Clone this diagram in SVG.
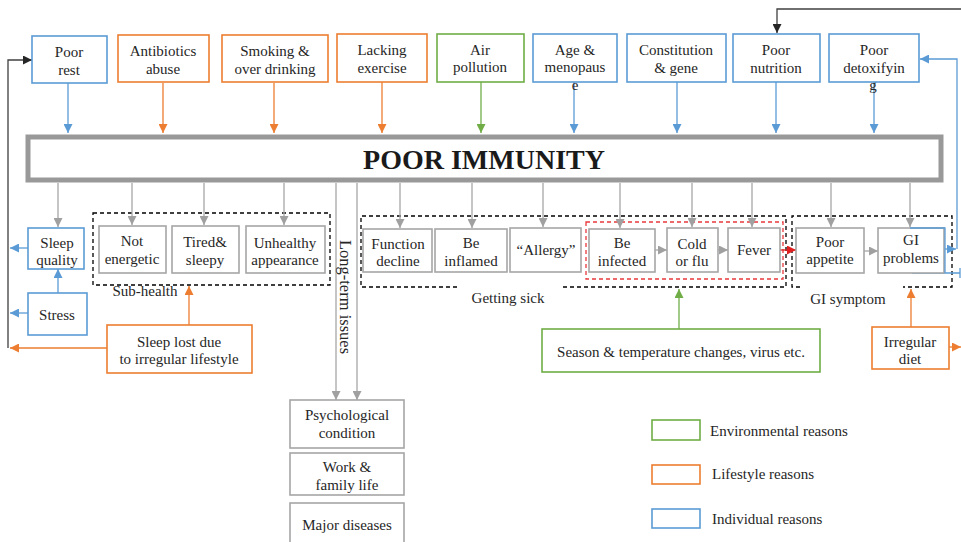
<svg xmlns="http://www.w3.org/2000/svg" width="961" height="542" viewBox="0 0 961 542">
<style>
text{font-family:"Liberation Serif","Times New Roman",serif;font-size:15px;fill:#262626;text-anchor:middle}
.b{fill:#fff;stroke:#5B9BD5;stroke-width:1.6}
.o{fill:#fff;stroke:#ED7D31;stroke-width:1.6}
.g{fill:#fff;stroke:#70AD47;stroke-width:1.6}
.n{fill:#fff;stroke:#A6A6A6;stroke-width:1.6}
.lb{stroke:#5B9BD5;stroke-width:1.3;fill:none}
.lo{stroke:#ED7D31;stroke-width:1.3;fill:none}
.lg{stroke:#70AD47;stroke-width:1.3;fill:none}
.ln{stroke:#A6A6A6;stroke-width:1.3;fill:none}
.lk{stroke:#404040;stroke-width:1.3;fill:none}
.lr{stroke:#E02020;stroke-width:1.3;fill:none}
.dash{fill:none;stroke:#000;stroke-width:1.3;stroke-dasharray:4,3}
.rdash{fill:none;stroke:#E8383D;stroke-width:1.3;stroke-dasharray:4,3}
.l{text-anchor:start}
</style>
<defs>
<marker id="ab" viewBox="0 0 10 10" refX="10" refY="5" markerWidth="9" markerHeight="9" markerUnits="userSpaceOnUse" orient="auto"><path d="M0,0L10,5L0,10z" fill="#5B9BD5"/></marker>
<marker id="ao" viewBox="0 0 10 10" refX="10" refY="5" markerWidth="9" markerHeight="9" markerUnits="userSpaceOnUse" orient="auto"><path d="M0,0L10,5L0,10z" fill="#ED7D31"/></marker>
<marker id="ag" viewBox="0 0 10 10" refX="10" refY="5" markerWidth="9" markerHeight="9" markerUnits="userSpaceOnUse" orient="auto"><path d="M0,0L10,5L0,10z" fill="#70AD47"/></marker>
<marker id="an" viewBox="0 0 10 10" refX="10" refY="5" markerWidth="9" markerHeight="9" markerUnits="userSpaceOnUse" orient="auto"><path d="M0,0L10,5L0,10z" fill="#A0A0A0"/></marker>
<marker id="ak" viewBox="0 0 10 10" refX="10" refY="5" markerWidth="9" markerHeight="9" markerUnits="userSpaceOnUse" orient="auto"><path d="M0,0L10,5L0,10z" fill="#262626"/></marker>
<marker id="ar" viewBox="0 0 10 10" refX="10" refY="5" markerWidth="9" markerHeight="9" markerUnits="userSpaceOnUse" orient="auto"><path d="M0,0L10,5L0,10z" fill="#E02020"/></marker>
</defs>
<rect width="961" height="542" fill="#fff"/>

<!-- groups (dashed containers) -->
<g id="subhealth-group">
<rect class="dash" x="93" y="213" width="237" height="72"/>
<text x="145" y="296">Sub-health</text>
</g>
<g id="gettingsick-group">
<path class="dash" d="M457,287H361V216H786V287H560"/>
<text x="508" y="303">Getting sick</text>
</g>
<g id="gisymptom-group">
<path class="dash" d="M800,287H792V216H952V287H903"/>
<text x="848" y="304">GI symptom</text>
</g>
<g id="infection-group">
<rect class="rdash" x="586" y="222" width="197" height="57"/>
</g>

<!-- connectors -->
<g id="connectors">
<path class="lb" d="M68,83V133" marker-end="url(#ab)"/>
<path class="lo" d="M163,83V133" marker-end="url(#ao)"/>
<path class="lo" d="M274,83V133" marker-end="url(#ao)"/>
<path class="lo" d="M382,82V133" marker-end="url(#ao)"/>
<path class="lg" d="M481,82V133" marker-end="url(#ag)"/>
<path class="lb" d="M574,82V133" marker-end="url(#ab)"/>
<path class="lb" d="M677,82V133" marker-end="url(#ab)"/>
<path class="lb" d="M776,82V133" marker-end="url(#ab)"/>
<path class="lb" d="M874,82V133" marker-end="url(#ab)"/>
<path class="lk" d="M961,9H777V33" marker-end="url(#ak)"/>
<path class="lk" d="M8,348V60H32" marker-end="url(#ak)"/>
<path class="lo" d="M107,348H10" marker-end="url(#ao)"/>
<path class="lb" d="M28,248H10" marker-end="url(#ab)"/>
<path class="lb" d="M28,313H10" marker-end="url(#ab)"/>
<path class="lb" d="M58,293V269" marker-end="url(#ab)"/>
<path class="lo" d="M189,325V286" marker-end="url(#ao)"/>
<path class="ln" d="M58,183V227" marker-end="url(#an)"/>
<path class="ln" d="M132,183V225" marker-end="url(#an)"/>
<path class="ln" d="M204,183V225" marker-end="url(#an)"/>
<path class="ln" d="M284,183V225" marker-end="url(#an)"/>
<path class="ln" d="M336,183V400" marker-end="url(#an)"/>
<path class="ln" d="M357,183V400" marker-end="url(#an)"/>
<path class="ln" d="M400,183V228" marker-end="url(#an)"/>
<path class="ln" d="M472,183V228" marker-end="url(#an)"/>
<path class="ln" d="M543,183V227" marker-end="url(#an)"/>
<path class="ln" d="M620,183V228" marker-end="url(#an)"/>
<path class="ln" d="M692,183V227" marker-end="url(#an)"/>
<path class="ln" d="M752,183V227" marker-end="url(#an)"/>
<path class="ln" d="M831,183V227" marker-end="url(#an)"/>
<path class="ln" d="M910,183V227" marker-end="url(#an)"/>
<path class="ln" d="M655,250H667" marker-end="url(#an)"/>
<path class="ln" d="M718,250H728" marker-end="url(#an)"/>
<path class="lr" d="M780,250H796" marker-end="url(#ar)"/>
<path class="ln" d="M864,251H878" marker-end="url(#an)"/>
<path class="lg" d="M679,329V289" marker-end="url(#ag)"/>
<path class="lo" d="M911,327V289" marker-end="url(#ao)"/>
<path class="lo" d="M949,347H961" marker-end="url(#ao)"/>
<path class="lb" d="M945,249H956" marker-end="url(#ab)"/>
<path class="lb" d="M957,249V59H920" marker-end="url(#ab)"/>
<path class="lb" d="M912,273H960M960,268V278"/>
</g>

<!-- top row -->
<g id="poor-rest"><rect class="b" x="32" y="36" width="75" height="47"/><text x="69" y="57">Poor</text><text x="69" y="75">rest</text></g>
<g id="antibiotics"><rect class="o" x="118" y="35" width="91" height="47"/><text x="163" y="56">Antibiotics</text><text x="163" y="74">abuse</text></g>
<g id="smoking"><rect class="o" x="222" y="35" width="106" height="47"/><text x="275" y="56">Smoking &amp;</text><text x="275" y="74">over drinking</text></g>
<g id="lacking-exercise"><rect class="o" x="337" y="34" width="90" height="48"/><text x="382" y="55">Lacking</text><text x="382" y="73">exercise</text></g>
<g id="air-pollution"><rect class="g" x="437" y="34" width="87" height="48"/><text x="480" y="55">Air</text><text x="480" y="72">pollution</text></g>
<g id="age"><rect class="b" x="533" y="34" width="84" height="48"/><text x="575" y="55">Age &amp;</text><text x="575" y="72">menopaus</text><text x="575" y="90">e</text></g>
<g id="constitution"><rect class="b" x="627" y="34" width="99" height="48"/><text x="676" y="55">Constitution</text><text x="676" y="73">&amp; gene</text></g>
<g id="poor-nutrition"><rect class="b" x="733" y="34" width="87" height="48"/><text x="776" y="55">Poor</text><text x="776" y="73">nutrition</text></g>
<g id="poor-detox"><rect class="b" x="829" y="34" width="90" height="48"/><text x="874" y="55">Poor</text><text x="874" y="73">detoxifyin</text><text x="873" y="90">g</text></g>

<!-- central -->
<g id="poor-immunity"><rect x="28" y="137" width="913" height="43" fill="#fff" stroke="#999" stroke-width="5"/><text x="484" y="169" style="font-size:28px;font-weight:bold;fill:#1a1a1a">POOR IMMUNITY</text></g>

<!-- second row -->
<g id="sleep-quality"><rect class="b" x="28" y="228" width="56" height="41"/><text x="57" y="248">Sleep</text><text x="57" y="265">quality</text></g>
<g id="stress"><rect class="b" x="28" y="293" width="59" height="42"/><text x="57" y="320">Stress</text></g>
<g id="not-energetic"><rect class="n" x="99" y="226" width="67" height="47"/><text x="132" y="246">Not</text><text x="132" y="264">energetic</text></g>
<g id="tired"><rect class="n" x="172" y="226" width="67" height="47"/><text x="205" y="247">Tired&amp;</text><text x="205" y="265">sleepy</text></g>
<g id="unhealthy"><rect class="n" x="246" y="226" width="79" height="47"/><text x="285" y="248">Unhealthy</text><text x="285" y="265">appearance</text></g>
<g id="sleep-lost"><rect class="o" x="107" y="325" width="145" height="48"/><text x="179" y="347">Sleep lost due</text><text x="179" y="364">to irregular lifestyle</text></g>
<g id="long-term-label"><text transform="translate(340,297) rotate(90)" style="font-size:16.5px">Long-term issues</text></g>
<g id="function-decline"><rect class="n" x="363" y="229" width="69" height="43"/><text x="398" y="249">Function</text><text x="398" y="266">decline</text></g>
<g id="be-inflamed"><rect class="n" x="435" y="229" width="72" height="43"/><text x="471" y="248">Be</text><text x="471" y="266">inflamed</text></g>
<g id="allergy"><rect class="n" x="510" y="228" width="71" height="44"/><text x="546" y="255">“Allergy”</text></g>
<g id="be-infected"><rect class="n" x="589" y="229" width="66" height="43"/><text x="622" y="248">Be</text><text x="622" y="266">infected</text></g>
<g id="cold-flu"><rect class="n" x="667" y="228" width="51" height="44"/><text x="692" y="249">Cold</text><text x="692" y="266">or flu</text></g>
<g id="fever"><rect class="n" x="728" y="228" width="52" height="44"/><text x="754" y="255">Fever</text></g>
<g id="poor-appetite"><rect class="n" x="796" y="228" width="68" height="45"/><text x="830" y="247">Poor</text><text x="830" y="264">appetite</text></g>
<g id="gi-problems"><rect class="n" x="878" y="228" width="66" height="45"/><path class="lb" d="M910,228H945V273"/><text x="911" y="245">GI</text><text x="911" y="263">problems</text></g>

<!-- bottom -->
<g id="season"><rect class="g" x="542" y="329" width="278" height="43"/><text x="681" y="357">Season &amp; temperature changes, virus etc.</text></g>
<g id="irregular-diet"><rect class="o" x="872" y="327" width="77" height="42"/><text x="910" y="347">Irregular</text><text x="910" y="364">diet</text></g>
<g id="psychological"><rect class="n" x="290" y="400" width="114" height="48"/><text x="347" y="420">Psychological</text><text x="347" y="438">condition</text></g>
<g id="work-family"><rect class="n" x="290" y="453" width="114" height="42"/><text x="347" y="472">Work &amp;</text><text x="347" y="490">family life</text></g>
<g id="major-diseases"><rect class="n" x="290" y="503" width="114" height="42"/><text x="347" y="530">Major diseases</text></g>

<!-- legend -->
<g id="legend-env"><rect class="g" x="652" y="420" width="48" height="20"/><text class="l" x="710" y="436">Environmental reasons</text></g>
<g id="legend-life"><rect class="o" x="652" y="465" width="48" height="19"/><text class="l" x="712" y="479">Lifestyle reasons</text></g>
<g id="legend-ind"><rect class="b" x="652" y="509" width="48" height="19"/><text class="l" x="712" y="524">Individual reasons</text></g>
</svg>
